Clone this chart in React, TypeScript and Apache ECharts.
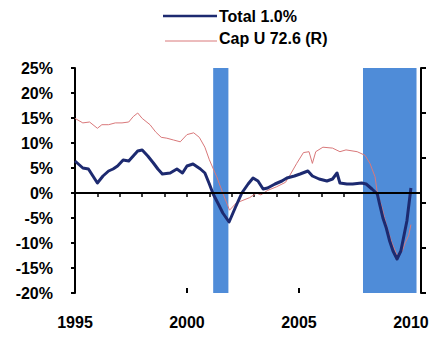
import React, { useEffect, useRef } from "react";
import * as echarts from "echarts";

// Industrial production, total, y/y % change (left axis)
const totalDates = [
  1995.0, 1995.2, 1995.35, 1995.6, 1995.8, 1996.0, 1996.25, 1996.5, 1996.7, 1996.9,
  1997.15, 1997.4, 1997.6, 1997.8, 1998.0, 1998.25, 1998.5, 1998.7, 1998.9, 1999.25,
  1999.55, 1999.8, 2000.0, 2000.27, 2000.6, 2000.8, 2001.0, 2001.17, 2001.4, 2001.6,
  2001.88, 2002.15, 2002.45, 2002.73, 2002.95, 2003.17, 2003.4, 2003.6, 2003.93, 2004.24,
  2004.46, 2004.8, 2005.05, 2005.4, 2005.6, 2005.9, 2006.25, 2006.5, 2006.7, 2006.83,
  2007.14, 2007.4, 2007.8, 2008.0, 2008.26, 2008.5, 2008.6, 2008.75, 2008.9, 2009.05,
  2009.2, 2009.38, 2009.55, 2009.73, 2009.82, 2010.0,
];
const totalValues = [
  6.4, 5.6, 5.0, 4.8, 3.4, 2.0, 3.4, 4.4, 4.8, 5.4,
  6.6, 6.4, 7.4, 8.4, 8.6, 7.4, 6.0, 4.8, 3.8, 4.0,
  4.8, 4.0, 5.4, 5.8, 4.8, 4.0, 1.8, -0.2, -2.2, -4.0,
  -5.8, -3.0, 0.0, 1.8, 3.0, 2.4, 0.8, 1.0, 1.8, 2.4,
  3.0, 3.4, 3.8, 4.4, 3.4, 2.8, 2.4, 2.8, 4.0, 2.0,
  1.8, 1.8, 2.0, 1.8, 0.8, -0.2, -2.2, -5.0, -7.0, -9.6,
  -11.6, -13.2, -11.6, -7.6, -5.6, 1.0,
];

// Capacity utilization, % (right axis)
const capDates = [
  1995.0, 1995.35, 1995.65, 1996.0, 1996.2, 1996.5, 1996.8, 1997.1, 1997.4, 1997.6,
  1997.8, 1998.0, 1998.35, 1998.6, 1998.85, 1999.1, 1999.4, 1999.7, 2000.0, 2000.3,
  2000.55, 2000.8, 2001.0, 2001.33, 2001.6, 2001.9, 2002.2, 2002.5, 2002.8, 2003.1,
  2003.3, 2003.6, 2004.0, 2004.4, 2004.6, 2004.9, 2005.2, 2005.45, 2005.6, 2005.75,
  2006.07, 2006.5, 2006.83, 2007.1, 2007.6, 2007.95, 2008.17, 2008.4, 2008.5, 2008.7,
  2008.82, 2008.97, 2009.15, 2009.38, 2009.6, 2009.75, 2009.9, 2010.0,
];
const capValues = [
  84.4, 83.9, 84.0, 83.3, 83.7, 83.7, 83.9, 83.9, 84.0, 84.6,
  85.0, 84.4, 83.7, 82.9, 82.3, 82.2, 82.0, 81.8, 82.6, 82.8,
  82.3, 81.2, 79.8, 77.9, 76.1, 74.2, 75.0, 75.3, 75.6, 76.1,
  75.9, 76.4, 76.8, 77.3, 78.1, 79.4, 80.6, 80.7, 79.4, 80.7,
  81.2, 81.1, 80.7, 80.9, 80.7, 80.3, 79.4, 77.9, 76.1, 74.6,
  73.4, 72.0, 70.6, 69.2, 69.6, 70.6, 71.4, 72.6,
];

// Recession periods (start, end)
const recessions = [
  [2001.17, 2001.85],
  [2007.86, 2010.25],
];

const leftTicks = { min: -20, max: 25, step: 5 };
const rightTicks = { min: 65, max: 90, step: 5 };
const legendNames = ["Total 1.0%", "Cap U 72.6 (R)"];

const FONT = "Liberation Sans";
const NAVY = "#1d2a70";
const RED = "#d9787a";
const BAND = "#4f8cd8";

export default function App() {
  const ref = useRef<HTMLDivElement>(null);

  useEffect(() => {
    if (!ref.current) return;
    const chart = echarts.init(ref.current, null, { renderer: "svg" });

    const totalData = totalDates.map((d, i) => [d, totalValues[i]]);
    const capData = capDates.map((d, i) => [d, capValues[i]]);

    const labelStyle = {
      color: "#000",
      fontFamily: FONT,
      fontWeight: "bold" as const,
      fontSize: 16,
    };

    chart.setOption({
      animation: false,
      backgroundColor: "#fff",
      grid: { left: 75, right: 15, top: 68, bottom: 46, containLabel: false },
      xAxis: [
        {
          type: "value",
          min: 1995,
          max: 2010.45,
          interval: 1,
          axisLine: { show: true, lineStyle: { color: "#000", width: 2 } },
          axisTick: { show: true, inside: false, length: 4, lineStyle: { color: "#000", width: 1.5 } },
          splitLine: { show: false },
          axisLabel: {
            ...labelStyle,
            margin: 21,
            showMaxLabel: false,
            formatter: (v: number) =>
              Math.abs(v - Math.round(v)) < 1e-6 && Math.round(v) % 5 === 0 ? String(Math.round(v)) : "",
          },
        },
        {
          type: "value",
          min: 1995,
          max: 2010.45,
          interval: 5,
          position: "bottom",
          axisLine: { show: false },
          axisTick: { show: true, inside: true, length: 5, lineStyle: { color: "#000", width: 2 } },
          axisLabel: { show: false },
          splitLine: { show: false },
        },
      ],
      yAxis: [
        {
          type: "value",
          min: leftTicks.min,
          max: leftTicks.max,
          interval: leftTicks.step,
          position: "left",
          axisLine: { show: true, lineStyle: { color: "#000", width: 2 } },
          axisTick: { show: true, inside: false, length: 4, lineStyle: { color: "#000", width: 2 } },
          splitLine: { show: false },
          axisLabel: { ...labelStyle, margin: 22, formatter: (v: number) => `${v}%` },
        },
        {
          type: "value",
          min: rightTicks.min,
          max: rightTicks.max,
          interval: rightTicks.step,
          position: "right",
          axisLine: { show: true, lineStyle: { color: "#000", width: 2 } },
          axisTick: { show: true, inside: false, length: 5, lineStyle: { color: "#000", width: 2 } },
          splitLine: { show: false },
          axisLabel: { show: false },
        },
      ],
      series: [
        {
          name: "recessions",
          type: "line",
          data: [],
          z: 1,
          silent: true,
          markArea: {
            silent: true,
            itemStyle: { color: BAND, opacity: 1 },
            data: recessions.map(([a, b]) => [{ xAxis: a, yAxis: leftTicks.max }, { xAxis: b, yAxis: leftTicks.min }]),
          },
        },
        {
          name: legendNames[1],
          type: "line",
          yAxisIndex: 1,
          data: capData,
          showSymbol: false,
          z: 3,
          lineStyle: { color: RED, width: 1 },
        },
        {
          name: legendNames[0],
          type: "line",
          yAxisIndex: 0,
          data: totalData,
          showSymbol: false,
          z: 4,
          lineStyle: { color: NAVY, width: 3, join: "round" },
          markLine: {
            silent: true,
            symbol: "none",
            label: { show: false },
            lineStyle: { color: "#000", width: 2, type: "solid" },
            data: [{ yAxis: 0 }],
          },
        },
      ],
      graphic: [
        { type: "line", shape: { x1: 163, y1: 16, x2: 217, y2: 16 }, style: { stroke: NAVY, lineWidth: 2.5 } },
        {
          type: "text",
          left: 219,
          top: 8,
          style: { text: legendNames[0], fill: "#000", font: `bold 16px ${FONT}` },
        },
        { type: "line", shape: { x1: 165, y1: 41, x2: 217, y2: 41 }, style: { stroke: RED, lineWidth: 1 } },
        {
          type: "text",
          left: 219,
          top: 30,
          style: { text: legendNames[1], fill: "#000", font: `bold 16px ${FONT}` },
        },
      ],
    });

    return () => chart.dispose();
  }, []);

  return (
    <div
      ref={ref}
      style={{ position: "fixed", left: 0, top: 0, width: 436, height: 339, background: "#fff" }}
    />
  );
}
